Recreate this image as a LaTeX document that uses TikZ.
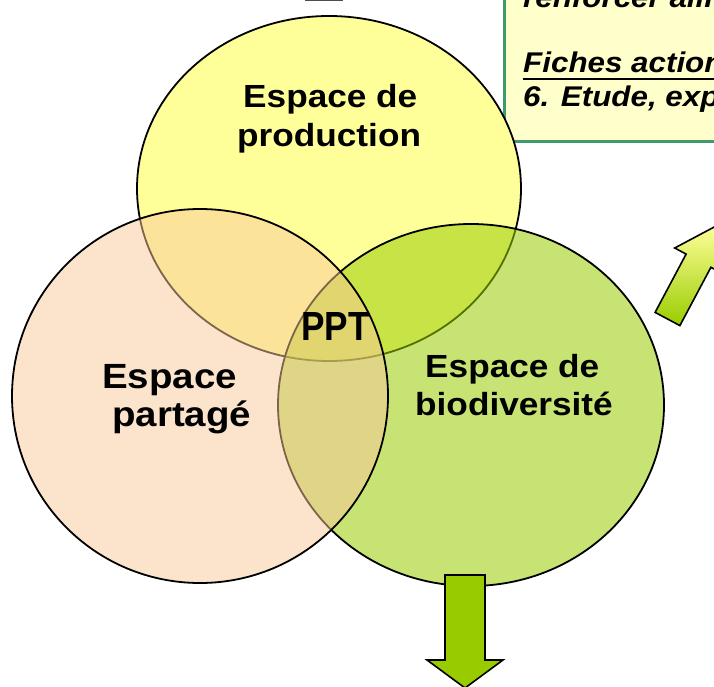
\documentclass[tikz,border=0pt]{standalone}
\usepackage{fontspec}
\setmainfont{Liberation Sans}
\usetikzlibrary{shapes.geometric}
\definecolor{ylw}{HTML}{FFFF99}
\definecolor{grn}{HTML}{99CC00}
\definecolor{org}{HTML}{F9C89A}
\definecolor{boxfill}{HTML}{FFFFCC}
\definecolor{boxline}{HTML}{3F9B6E}
\newcommand\stretchtxt[1]{\scalebox{1.1}[1]{#1}}
\begin{document}
\begin{tikzpicture}[x=1pt,y=-1pt,
  zone/.style={ellipse, draw=black, line width=1.8pt, inner sep=0pt},
  lbl/.style={anchor=base west, inner sep=0pt, font=\bfseries\fontsize{32}{38}\selectfont},
  lblbig/.style={anchor=base west, inner sep=0pt, font=\bfseries\fontsize{35}{40}\selectfont},
  boxtxt/.style={anchor=base west, inner sep=0pt, font=\bfseries\itshape\fontsize{28.5}{33}\selectfont},
  bigarrow/.style={draw=black, line width=1.6pt, line join=miter},
]
\useasboundingbox (0,0) rectangle (714,687);
\clip (0,0) rectangle (714,687);

% top fragments
\draw[gray!60!black, line width=2.5pt] (305,0) -- (343,0);
\node[draw=boxline, fill=boxfill, line width=3pt, minimum width=240pt, minimum height=160pt, anchor=south west, inner sep=0pt] (box) at (503,143) {};
\node[boxtxt] (r1) at (523,8) {\stretchtxt{renforcer alimentation}};
\node[boxtxt] (fa) at (523,73) {\stretchtxt{Fiches actions :}};
\draw[line width=2.5pt] ([yshift=-6pt]fa.base west) -- ([yshift=-6pt]fa.base east);
\node[boxtxt] (f6) at (523,107) {\stretchtxt{6. Etude, expérimentation}};

% zones
\node[zone, fill=ylw, minimum width=384pt, minimum height=345pt] (prod) at (329,188.5) {};
\node[zone, fill=grn, fill opacity=0.55, minimum width=386pt, minimum height=362pt] (bio) at (471,405) {};
\node[zone, fill=org, fill opacity=0.5, minimum width=376pt, minimum height=374pt] (part) at (200,396) {};

% labels
\node[lbl] (p1) at (243,108) {\stretchtxt{Espace de}};
\node[lbl] (p2) at (237,147) {\stretchtxt{production}};
\node[lblbig] (s1) at (102,388) {\stretchtxt{Espace}};
\node[lblbig] (s2) at (112,426) {\stretchtxt{partagé}};
\node[lbl] (b1) at (425,377) {\stretchtxt{Espace de}};
\node[lbl] (b2) at (415,415) {\stretchtxt{biodiversité}};
\node[anchor=base west, inner sep=0pt, font=\bfseries\fontsize{37}{40}\selectfont] (ppt) at (301,340) {\scalebox{0.95}[1.1]{PPT}};

% arrows
\draw[bigarrow, fill=grn] (445,575) -- (485,575) -- (485,660) -- (503,660) -- (465,688) -- (427,660) -- (445,660) -- cycle;
\draw[bigarrow, top color=ylw, bottom color=grn] (655.1,312.4) -- (686.1,254.1) -- (674.7,248.0) -- (717.2,225.4) -- (722.3,273.4) -- (710.9,267.3) -- (679.9,325.6) -- cycle;
\end{tikzpicture}
\end{document}
